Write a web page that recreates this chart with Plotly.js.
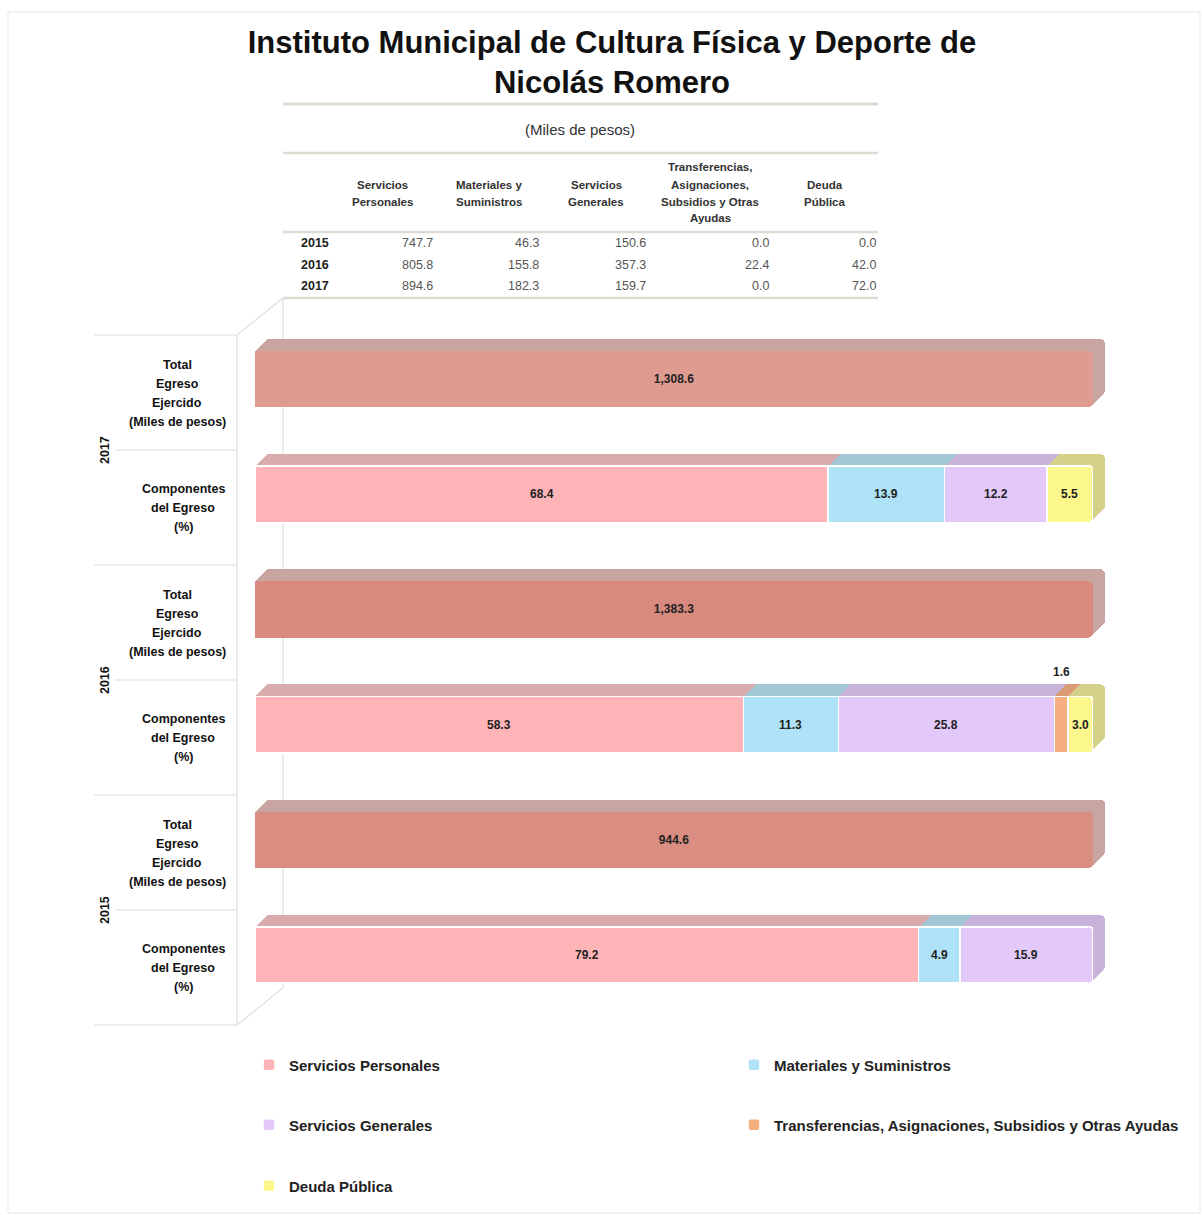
<!DOCTYPE html>
<html>
<head>
<meta charset="utf-8">
<script src="https://cdn.plot.ly/plotly-3.0.1.min.js"></script>
<style>html,body{margin:0;padding:0;background:#fff;}#chart{width:1202px;height:1215px;}</style>
</head>
<body>
<div id="chart"></div>
<script>
// ---------------- DATA ----------------
const years = ['2015', '2016', '2017'];
const componentNames = ['Servicios Personales', 'Materiales y Suministros', 'Servicios Generales',
  'Transferencias, Asignaciones, Subsidios y Otras Ayudas', 'Deuda Pública'];
const tableHeaders = [['Servicios', 'Personales'], ['Materiales y', 'Suministros'], ['Servicios', 'Generales'],
  ['Transferencias,', 'Asignaciones,', 'Subsidios y Otras', 'Ayudas'], ['Deuda', 'Pública']];
const tableUnit = '(Miles de pesos)';
// table (miles de pesos), per year 2015, 2016, 2017
const serviciosPersonalesMiles = [747.7, 805.8, 894.6];
const materialesMiles = [46.3, 155.8, 182.3];
const serviciosGeneralesMiles = [150.6, 357.3, 159.7];
const transferenciasMiles = [0.0, 22.4, 0.0];
const deudaMiles = [0.0, 42.0, 72.0];
// totals (miles de pesos)
const totalEgreso = [944.6, 1383.3, 1308.6];
const totalBarShare = [100, 100, 100];
// componentes del egreso (%)
const pctServiciosPersonales = [79.2, 58.3, 68.4];
const pctMateriales = [4.9, 11.3, 13.9];
const pctServiciosGenerales = [15.9, 25.8, 12.2];
const pctTransferencias = [0.0, 1.6, 0.0];
const pctDeuda = [0.0, 3.0, 5.5];
const rowLabelTotal = ['Total', 'Egreso', 'Ejercido', '(Miles de pesos)'];
const rowLabelComp = ['Componentes', 'del Egreso', '(%)'];
const titleText = 'Instituto Municipal de Cultura Física y Deporte de<br>Nicolás Romero';

// ---------------- STYLE ----------------
const W = 1202, H = 1215;
const NARROW = '"Liberation Sans Narrow", "Arial Narrow", "Liberation Sans", sans-serif';
const ARIAL = '"Liberation Sans", Arial, sans-serif';
const px = v => v / W, py = v => 1 - v / H;

const compSeries = [pctServiciosPersonales, pctMateriales, pctServiciosGenerales, pctTransferencias, pctDeuda];
const frontColors = ['#FFB5B8', '#AEE2F6', '#E3C9F9', '#F4AE80', '#FBF78C'];
const backColors = ['#D8ABAC', '#A2C8D6', '#C8B4DB', '#D99C75', '#D5D189'];
const totalFront = { '2015': '#DA8D81', '2016': '#D98A7E', '2017': '#E09B91' };
const totalBack = '#C8A5A1';

const compKey = y => y + '|C';
const totKey = y => y + '|T';
const categoryOrder = [];
years.forEach(y => { categoryOrder.push(compKey(y)); categoryOrder.push(totKey(y)); });

const fmt1 = v => v.toLocaleString('en-US', { minimumFractionDigits: 1, maximumFractionDigits: 1 });

const offsets = [12, 11, 10, 9, 8, 7, 6, 5, 4, 3, 2, 1, 0];
const layers = offsets.map((off, k) => ({
  xa: k === 0 ? 'x' : 'x' + (k + 1), ya: k === 0 ? 'y' : 'y' + (k + 1), sfx: k === 0 ? '' : String(k + 1),
  off: off, front: off === 0 }));
const FX = layers[layers.length - 1].xa, FY = layers[layers.length - 1].ya;

const traces = [];
const legendIds = ['legend', 'legend2', 'legend3', 'legend4', 'legend5'];
layers.forEach(L => {
  traces.push({
    type: 'bar', orientation: 'h', xaxis: L.xa, yaxis: L.ya,
    x: totalBarShare, y: years.map(totKey),
    width: 0.49,
    marker: { color: L.front ? years.map(y => totalFront[y]) : totalBack, cornerradius: 5,
      line: { width: 0 } },
    text: L.front ? totalEgreso.map(fmt1) : undefined,
    textposition: L.front ? 'inside' : 'none', insidetextanchor: 'middle', textangle: 0, constraintext: 'none',
    textfont: { family: NARROW, size: 12, color: '#222', weight: 'bold' },
    showlegend: false, hoverinfo: 'skip', name: 'Total'
  });
  compSeries.forEach((vals, i) => {
    traces.push({
      type: 'bar', orientation: 'h', xaxis: L.xa, yaxis: L.ya,
      x: vals, y: years.map(compKey),
      width: 0.49,
      name: componentNames[i],
      marker: { color: L.front ? frontColors[i] : backColors[i], cornerradius: 5,
        line: { color: '#ffffff', width: L.front ? 1.5 : 0 } },
      textposition: 'none',
      showlegend: L.front, legend: legendIds[i], hoverinfo: 'skip'
    });
  });
});

// ---------------- AXES ----------------
const frontTop = 321.4, frontBot = 1012.6, xL = 255, xR = 1093;
const axes = {};
layers.forEach(L => {
  axes['xaxis' + L.sfx] = { domain: [px(xL + L.off), px(xR + L.off)], range: [0, 100], visible: false, fixedrange: true,
    anchor: L.ya };
  axes['yaxis' + L.sfx] = { domain: [py(frontBot - L.off), py(frontTop - L.off)], type: 'category',
    categoryorder: 'array', categoryarray: categoryOrder, range: [-0.5, 5.5], visible: false, fixedrange: true,
    anchor: L.xa };
});

// ---------------- ANNOTATIONS ----------------
const ann = [];
const txt = (x, y, text, size, opts) => Object.assign({ xref: 'paper', yref: 'paper', x: px(x), y: py(y), text: text,
  showarrow: false, xanchor: 'center', yanchor: 'middle', font: { family: NARROW, size: size, color: '#222' } }, opts || {});
// table
ann.push(txt(580, 130, tableUnit, 15, { font: { family: ARIAL, size: 15, color: '#333' } }));
const headerCenters = [382, 489, 596, 710, 825];
tableHeaders.forEach((lines, i) => {
  const start = 193 - (lines.length - 1) * 17 / 2;
  lines.forEach((ln, j) => ann.push(txt(headerCenters[i], start + j * 17, ln, 11.5,
    { font: { family: NARROW, size: 11.5, color: '#333', weight: 'bold' } })));
});
const valueRight = [435, 541, 648, 771, 878];
const rowY = [243, 265, 286];
const tableCols = [serviciosPersonalesMiles, materialesMiles, serviciosGeneralesMiles, transferenciasMiles, deudaMiles];
years.forEach((y, r) => {
  ann.push(txt(299, rowY[r], y, 12.5, { xanchor: 'left', font: { family: NARROW, size: 12.5, color: '#222', weight: 'bold' } }));
  tableCols.forEach((col, c) => ann.push(txt(valueRight[c], rowY[r], fmt1(col[r]), 12.5,
    { xanchor: 'right', font: { family: NARROW, size: 12.5, color: '#555' } })));
});
// left row labels
const panelTop = 335, rowH = 115, lineGap = 19;
const labelFont = { family: NARROW, size: 12.5, color: '#111', weight: 'bold' };
const yearsTopDown = years.slice().reverse();
yearsTopDown.forEach((y, g) => {
  const t = panelTop + g * 2 * rowH;
  let s = t + rowH / 2 + 0.5 - (rowLabelTotal.length - 1) * lineGap / 2;
  rowLabelTotal.forEach((ln, j) => ann.push(txt(177, s + j * lineGap, ln, 12.5, { font: labelFont })));
  s = t + rowH * 1.5 + 0.5 - (rowLabelComp.length - 1) * lineGap / 2;
  rowLabelComp.forEach((ln, j) => ann.push(txt(183, s + j * lineGap, ln, 12.5, { font: labelFont })));
  ann.push(txt(105, t + rowH, y, 13, { textangle: -90, font: labelFont }));
});
// segment labels (centre of each stacked segment; small ones above the bar)
const segFont = { family: NARROW, size: 12, color: '#222', weight: 'bold' };
years.forEach((yr, r) => {
  let before = 0;
  compSeries.forEach(vals => {
    const v = vals[r];
    if (v > 0) {
      ann.push({ xref: FX, yref: FY, x: before + v / 2, y: compKey(yr), yshift: v < 2 ? 53 : 0, text: fmt1(v),
        showarrow: false, xanchor: 'center', yanchor: 'middle', font: segFont });
    }
    before += v;
  });
});

// ---------------- SHAPES ----------------
const line = (x0, y0, x1, y1, color, w) => ({ type: 'line', xref: 'paper', yref: 'paper', layer: 'below',
  x0: px(x0), y0: py(y0), x1: px(x1), y1: py(y1), line: { color: color, width: w } });
const shapes = [];
shapes.push({ type: 'rect', xref: 'paper', yref: 'paper', x0: px(8), y0: py(1213), x1: px(1200), y1: py(12),
  line: { color: '#e6e6e6', width: 1 }, fillcolor: 'rgba(0,0,0,0)', layer: 'below' });
[[104, 3], [153, 2.5], [232, 2.5], [298, 2.5]].forEach(([yy, w]) => shapes.push(line(283, yy, 878, yy, '#dcdcd2', w)));
const wall = '#dedede';
shapes.push(line(237, 335, 237, 1025, wall, 1.2));
shapes.push(line(283, 298, 283, 988, wall, 1.2));
shapes.push(line(237, 335, 283, 298, wall, 1.2));
shapes.push(line(237, 1025, 283, 988, wall, 1.2));
[335, 565, 795, 1025].forEach(yy => shapes.push(line(94, yy, 237, yy, wall, 1.2)));
[450, 680, 910].forEach(yy => shapes.push(line(115, yy, 237, yy, wall, 1.2)));

// ---------------- LEGENDS ----------------
const legendPos = [[249, 1065], [734, 1065], [249, 1125], [734, 1125], [249, 1186]];
const legends = {};
legendIds.forEach((id, i) => {
  legends[id] = { x: px(legendPos[i][0]), y: py(legendPos[i][1]), xanchor: 'left', yanchor: 'middle',
    font: { family: NARROW, size: 15, color: '#222', weight: 'bold' }, bgcolor: 'rgba(0,0,0,0)',
    itemwidth: 30, itemclick: false, itemdoubleclick: false };
});

const layout = Object.assign({
  width: W, height: H,
  margin: { l: 0, r: 0, t: 0, b: 0 },
  paper_bgcolor: '#ffffff', plot_bgcolor: 'rgba(0,0,0,0)',
  barmode: 'stack', bargap: 0,
  title: { text: titleText, x: px(612), xref: 'paper', xanchor: 'center', y: py(53), yref: 'paper', yanchor: 'middle',
    font: { family: ARIAL, size: 31, color: '#111', weight: 'bold' } },
  annotations: ann, shapes: shapes,
  hovermode: false
}, axes, legends);

Plotly.newPlot('chart', traces, layout, { displayModeBar: false, staticPlot: true });
</script>
</body>
</html>
